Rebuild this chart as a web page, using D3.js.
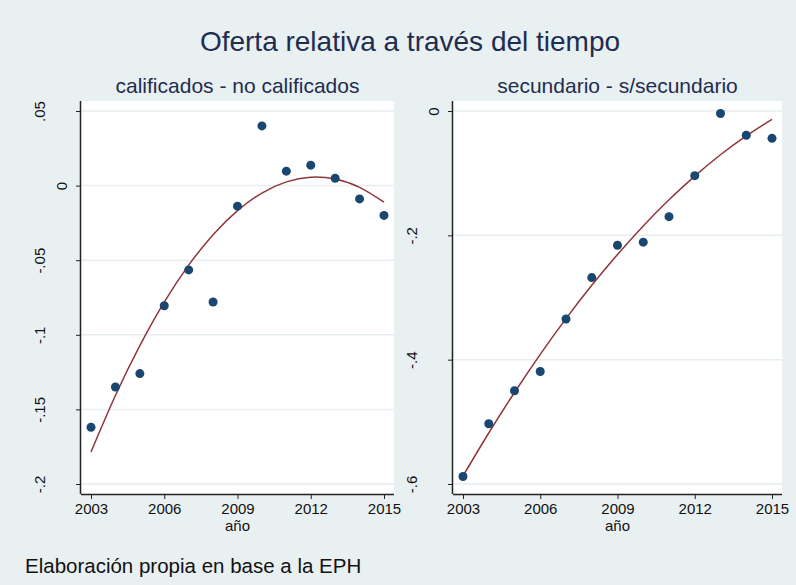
<!DOCTYPE html>
<html>
<head>
<meta charset="utf-8">
<script src="https://cdn.jsdelivr.net/npm/d3@7"></script>
<style>
  body { margin: 0; background: #e9f0f2; }
  svg { display: block; font-family: "Liberation Sans", Arial, sans-serif; }
  .tick text { fill: #111; }
</style>
</head>
<body>
<div id="chart"></div>
<script>
// Oferta relativa a traves del tiempo (EPH), dos paneles con ajuste cuadratico
var years = [2003, 2004, 2005, 2006, 2007, 2008, 2009, 2010, 2011, 2012, 2013, 2014, 2015];
var calificados = [-0.162, -0.135, -0.126, -0.0805, -0.0565, -0.078, -0.0138, 0.040, 0.0097, 0.0137, 0.0049, -0.0089, -0.020];
var secundario = [-0.588, -0.503, -0.450, -0.419, -0.3345, -0.268, -0.216, -0.211, -0.170, -0.104, -0.004, -0.039, -0.044];

var xTicks = [2003, 2006, 2009, 2012, 2015];
var leftTicks = [-0.2, -0.15, -0.1, -0.05, 0, 0.05];
var leftTickLabels = ["-.2", "-.15", "-.1", "-.05", "0", ".05"];
var rightTicks = [-0.6, -0.4, -0.2, 0];
var rightTickLabels = ["-.6", "-.4", "-.2", "0"];

var svgWidth = 796;
var svgHeight = 585;

var svg = d3.select("#chart")
  .append("svg")
  .attr("width", svgWidth)
  .attr("height", svgHeight);

svg.append("rect")
  .attr("width", svgWidth)
  .attr("height", svgHeight)
  .attr("fill", "#e9f0f2");

svg.append("text")
  .attr("x", 410)
  .attr("y", 51)
  .attr("text-anchor", "middle")
  .attr("font-size", 28)
  .attr("fill", "#1e2d50")
  .text("Oferta relativa a través del tiempo");

svg.append("text")
  .attr("x", 25)
  .attr("y", 573)
  .attr("font-size", 20.5)
  .attr("fill", "#111")
  .text("Elaboración propia en base a la EPH");

// quadratic least-squares fit (like Stata qfit), evaluated at each year
function qfit(xs, ys) {
  var n = xs.length;
  var mx = d3.mean(xs);
  var t = xs.map(function(x) { return x - mx; });
  var s2 = d3.sum(t, function(v) { return v * v; });
  var s3 = d3.sum(t, function(v) { return v * v * v; });
  var s4 = d3.sum(t, function(v) { return v * v * v * v; });
  var sy = d3.sum(ys);
  var sty = d3.sum(t, function(v, i) { return v * ys[i]; });
  var st2y = d3.sum(t, function(v, i) { return v * v * ys[i]; });
  // normal equations, s1 = 0 since t is centered
  var A = [[n, 0, s2], [0, s2, s3], [s2, s3, s4]];
  var B = [sy, sty, st2y];
  var det = function(m) {
    return m[0][0] * (m[1][1] * m[2][2] - m[1][2] * m[2][1])
         - m[0][1] * (m[1][0] * m[2][2] - m[1][2] * m[2][0])
         + m[0][2] * (m[1][0] * m[2][1] - m[1][1] * m[2][0]);
  };
  var D = det(A);
  var coef = [0, 1, 2].map(function(k) {
    var M = A.map(function(row, r) {
      return row.map(function(v, c) { return c === k ? B[r] : v; });
    });
    return det(M) / D;
  });
  return t.map(function(v) { return coef[0] + coef[1] * v + coef[2] * v * v; });
}

function drawPanel(opts) {
  var g = svg.append("g");
  var x0 = opts.left, x1 = opts.right, y0 = 101, y1 = 494;

  var xScale = d3.scaleLinear().domain([2003, 2015]).range([x0 + 10, x1 - 10]);
  var yScale = d3.scaleLinear().domain(opts.domain).range([y1 - 10, y0 + 10]);

  g.append("rect")
    .attr("x", x0)
    .attr("y", y0)
    .attr("width", x1 - x0)
    .attr("height", y1 - y0)
    .attr("fill", "#ffffff");

  // gridlines
  g.selectAll(".grid")
    .data(opts.ticks)
    .enter().append("line")
    .attr("x1", x0)
    .attr("x2", x1)
    .attr("y1", function(d) { return yScale(d); })
    .attr("y2", function(d) { return yScale(d); })
    .attr("stroke", "#e6eef1")
    .attr("stroke-width", 1.5);

  // subtitle
  g.append("text")
    .attr("x", (x0 + x1) / 2)
    .attr("y", 93)
    .attr("text-anchor", "middle")
    .attr("font-size", 21)
    .attr("fill", "#1e2d50")
    .text(opts.title);

  // fitted curve
  var fit = qfit(years, opts.values);
  var line = d3.line()
    .x(function(d, i) { return xScale(years[i]); })
    .y(function(d) { return yScale(d); })
    .curve(d3.curveNatural);

  g.append("path")
    .datum(fit)
    .attr("d", line)
    .attr("fill", "none")
    .attr("stroke", "#90353b")
    .attr("stroke-width", 1.5);

  // points
  g.selectAll("circle")
    .data(opts.values)
    .enter().append("circle")
    .attr("cx", function(d, i) { return xScale(years[i]); })
    .attr("cy", function(d) { return yScale(d); })
    .attr("r", 4.5)
    .attr("fill", "#1a476f");

  // x axis
  var bottomAxis = d3.axisBottom(xScale).tickValues(xTicks).tickFormat(d3.format("d")).tickSize(5).tickPadding(4);
  var xg = g.append("g")
    .attr("transform", "translate(0," + y1 + ")")
    .call(bottomAxis);
  xg.select(".domain").attr("d", "M" + x0 + ",0.5H" + x1).attr("stroke", "#222").attr("stroke-width", 1.5);
  xg.selectAll(".tick line").attr("stroke", "#222");
  xg.selectAll(".tick text").attr("font-size", 15).attr("font-family", "Liberation Sans, Arial, sans-serif");

  g.append("text")
    .attr("x", (x0 + x1) / 2)
    .attr("y", 531)
    .attr("text-anchor", "middle")
    .attr("font-size", 15)
    .attr("fill", "#111")
    .text("año");

  // y axis with rotated labels
  var leftAxis = d3.axisLeft(yScale).tickValues(opts.ticks)
    .tickFormat(function(d, i) { return opts.labels[i]; })
    .tickSize(5);
  var yg = g.append("g")
    .attr("transform", "translate(" + x0 + ",0)")
    .call(leftAxis);
  yg.select(".domain").attr("d", "M-0.5," + y0 + "V" + y1).attr("stroke", "#222").attr("stroke-width", 1.5);
  yg.selectAll(".tick line").attr("stroke", "#222");
  yg.selectAll(".tick text")
    .attr("font-size", 15)
    .attr("font-family", "Liberation Sans, Arial, sans-serif")
    .attr("text-anchor", "middle")
    .attr("dy", 0)
    .attr("x", 0)
    .attr("transform", function(d) {
      var off = d === 0 ? 14 : opts.labelGap;
      return "translate(" + (-off) + ",0) rotate(-90)";
    });
}

drawPanel({
  left: 81, right: 394,
  domain: [-0.2, 0.05],
  ticks: leftTicks, labels: leftTickLabels,
  values: calificados,
  labelGap: 36,
  title: "calificados - no calificados"
});

drawPanel({
  left: 453, right: 782,
  domain: [-0.6, 0],
  ticks: rightTicks, labels: rightTickLabels,
  values: secundario,
  labelGap: 36,
  title: "secundario - s/secundario"
});
</script>
</body>
</html>
